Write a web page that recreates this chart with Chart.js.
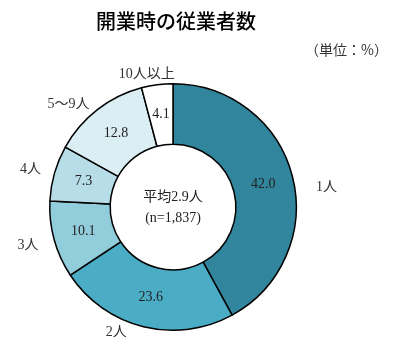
<!DOCTYPE html>
<html><head><meta charset="utf-8">
<script src="https://cdn.jsdelivr.net/npm/chart.js@4/dist/chart.umd.min.js"></script>
<style>html,body{margin:0;padding:0;background:#fff;}#wrap{width:395px;height:358px;position:relative;}</style>
</head><body><div id="wrap"><canvas id="c" width="395" height="358"></canvas></div>
<script>
const categories = ["1人", "2人", "3人", "4人", "5～9人", "10人以上"];
const values = [42.0, 23.6, 10.1, 7.3, 12.8, 4.1];
const colors = ["#31859c", "#4bacc6", "#92cddc", "#b7dee8", "#daeef3", "#ffffff"];
const titleText = "開業時の従業者数";
const unitText = "（単位：%）";
const centerLines = ["平均2.9人", "(n=1,837)"];

const SERIF = "'Liberation Serif','Noto Sans CJK JP',serif";
const SANS = "'Noto Sans CJK JP','Noto Sans',sans-serif";

const labelPlugin = {
  id: 'labels',
  afterDraw(chart, args, opts) {
    const ctx = chart.ctx;
    const meta = chart.getDatasetMeta(0);
    const nudge = opts.nudge || [];
    ctx.save();
    ctx.fillStyle = '#000';
    ctx.textAlign = 'center';
    ctx.textBaseline = 'middle';
    ctx.font = "500 20px " + SANS;
    ctx.fillText(titleText, 176, 21);
    ctx.font = "14px " + SANS;
    ctx.textAlign = 'right';
    ctx.fillStyle = '#333';
    ctx.fillText(unitText, 388, 50);
    ctx.textAlign = 'center';
    meta.data.forEach((arc, i) => {
      const p = arc.tooltipPosition();
      ctx.fillStyle = '#222';
      ctx.font = "14px " + SERIF;
      ctx.fillText(values[i].toFixed(1), p.x, p.y);
      const mid = (arc.startAngle + arc.endAngle) / 2;
      const r = arc.outerRadius + 26;
      const n = nudge[i] || [0, 0];
      ctx.fillStyle = '#333';
      ctx.fillText(categories[i], arc.x + Math.cos(mid) * r + n[0], arc.y + Math.sin(mid) * r + n[1]);
    });
    const a = meta.data[0];
    ctx.fillStyle = '#222';
    ctx.font = "14px " + SERIF;
    ctx.fillText(centerLines[0], a.x, a.y - 10);
    ctx.fillText(centerLines[1], a.x, a.y + 11);
    ctx.restore();
  }
};

new Chart(document.getElementById('c'), {
  type: 'doughnut',
  data: { labels: categories, datasets: [{ data: values, backgroundColor: colors, borderColor: '#000', borderWidth: 1.5 }] },
  options: {
    responsive: false,
    animation: false,
    cutout: '51%',
    layout: { padding: { left: 49, right: 98, top: 83, bottom: 27 } },
    plugins: {
      legend: { display: false }, tooltip: { enabled: false }, title: { display: false },
      labels: { nudge: [[9, 17], [-21, -20], [-1, -1], [1, 3], [-13, 15], [-7, 15]] }
    }
  },
  plugins: [labelPlugin]
});
</script></body></html>
